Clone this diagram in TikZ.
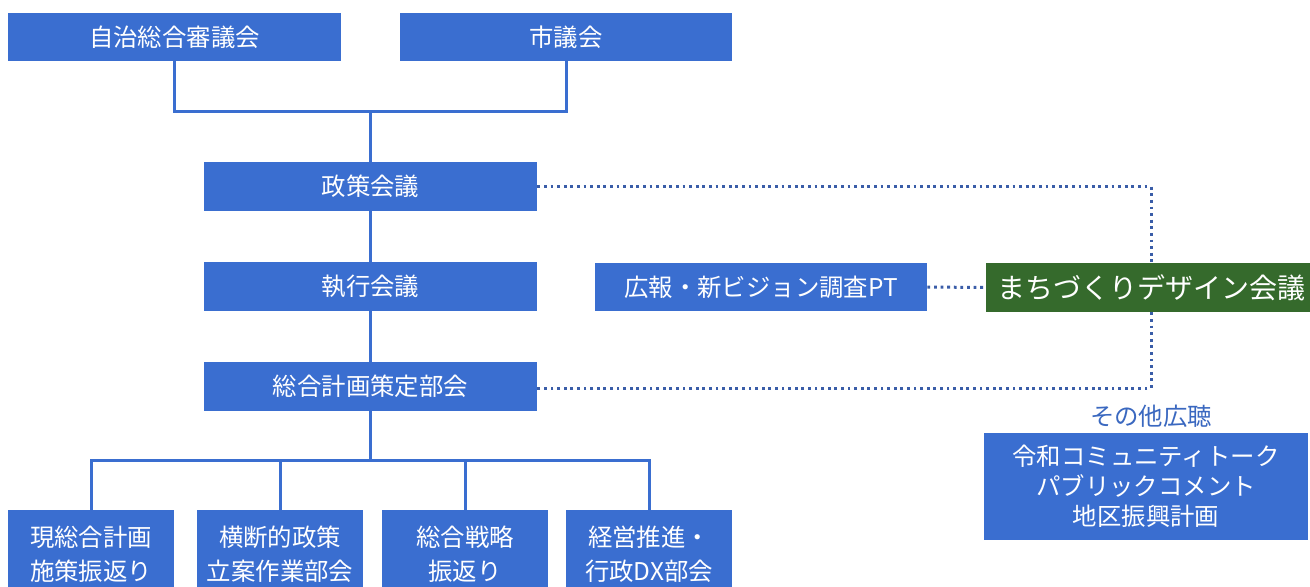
\documentclass[tikz,border=0pt]{standalone}
\usepackage{fontspec}
\setmainfont{Noto Sans CJK JP}
\definecolor{boxblue}{HTML}{3A6ED0}
\definecolor{boxgreen}{HTML}{356A2C}
\definecolor{dotblue}{HTML}{3A5DA8}
\definecolor{labelblue}{HTML}{3A68C0}
\tikzset{
  orgbox/.style={fill=boxblue, text=white, inner sep=0pt, minimum height=24pt,
    font=\fontsize{12.2pt}{17pt}\selectfont, align=center},
  greenbox/.style={orgbox, fill=boxgreen, font=\fontsize{14pt}{17pt}\selectfont},
  link/.style={draw=boxblue, line width=1.5pt},
  dotlink/.style={draw=dotblue, line width=1.5pt, dash pattern=on 1.4pt off 1.9pt},
}
\begin{document}
\begin{tikzpicture}[x=0.5pt, y=-0.5pt]
\useasboundingbox[fill=white] (0,0) rectangle (1310,586);
% top
\node[orgbox, minimum width=166.5pt] (a) at (174.5,37) {自治総合審議会};
\node[orgbox, minimum width=166pt] (b) at (566,37) {市議会};
% central column
\node[orgbox, minimum width=166.5pt, minimum height=24.5pt] (c) at (370.5,186.5) {政策会議};
\node[orgbox, minimum width=166.5pt, minimum height=24.5pt] (d) at (370.5,286.5) {執行会議};
\node[orgbox, minimum width=166.5pt, minimum height=24.5pt] (e) at (370.5,386.5) {総合計画策定部会};
% bottom row
\node[orgbox, minimum width=83pt, minimum height=44pt] (f1) at (91,554) {現総合計画\\施策振返り};
\node[orgbox, minimum width=83pt, minimum height=44pt] (f2) at (280,554) {横断的政策\\立案作業部会};
\node[orgbox, minimum width=83pt, minimum height=44pt] (f3) at (465,554) {総合戦略\\振返り};
\node[orgbox, minimum width=83pt, minimum height=44pt] (f4) at (649,554) {経営推進・\\行政DX部会};
% right side
\node[orgbox, minimum width=166pt] (g) at (761,287) {広報・新ビジョン調査PT};
\node[greenbox, minimum width=165pt, minimum height=24.5pt] (h) at (1151,287.5) {まちづくりデザイン会議};
\node[text=labelblue, inner sep=0pt, font=\fontsize{12.2pt}{14pt}\selectfont] (i) at (1151,416) {その他広聴};
\node[orgbox, minimum width=162pt, minimum height=53.5pt, font=\fontsize{12.2pt}{15pt}\selectfont] (j) at (1146,486.5) {令和コミュニティトーク\\パブリックコメント\\地区振興計画};
% solid connectors
\coordinate (top) at (370.5,111.5);
\coordinate (bot) at (370.5,460);
\draw[link] (a.south) |- (top) -| (b.south);
\draw[link] (top) -- (c.north);
\draw[link] (c.south) -- (d.north);
\draw[link] (d.south) -- (e.north);
\draw[link] (e.south) -- (bot);
\draw[link] (f1.north) |- (bot) -| (f4.north);
\draw[link] (f2.north) -- (f2.north |- bot);
\draw[link] (f3.north) -- (f3.north |- bot);
% dotted connectors
\draw[dotlink] (c.east) -| (h.north);
\draw[dotlink] (g.east) -- (h.west);
\coordinate (dcorner) at (1151,388);
\draw[dotlink] (h.south) -- (dcorner) -- (e.east |- dcorner);
\end{tikzpicture}
\end{document}
